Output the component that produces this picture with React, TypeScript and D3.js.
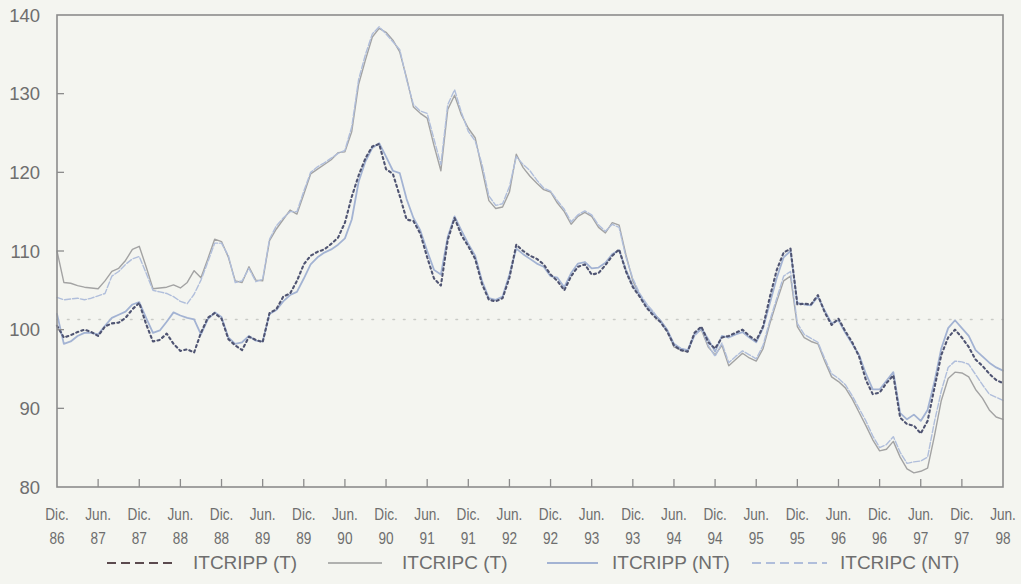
import React from "react";
import * as d3 from "d3";

// Monthly observations, Dec 1986 (index 0) .. Jun 1998 (index 138)
const itcrippT: number[] = [
  100.5, 99.0, 99.3, 99.7, 100.0, 99.7, 99.2, 100.4, 100.8, 100.9,
  101.5, 102.6, 103.4, 100.7, 98.5, 98.7, 99.5, 98.2, 97.3, 97.5,
  97.1, 99.6, 101.5, 102.1, 101.4, 98.8, 98.0, 97.4, 99.1, 98.7,
  98.4, 102.1, 102.6, 104.2, 104.6, 106.2, 108.3, 109.4, 109.9, 110.2,
  110.9, 111.7, 113.6, 116.9, 119.6, 121.8, 123.3, 123.6, 120.4, 119.8,
  117.0, 114.0, 113.8, 112.2, 109.2, 106.5, 105.6, 111.4, 114.2, 112.0,
  110.6, 109.0, 105.8, 103.8, 103.6, 104.0, 106.6, 110.8, 110.0, 109.4,
  109.0, 108.3, 107.0, 106.2, 105.0, 106.8, 108.0, 108.3, 107.0, 107.2,
  108.2, 109.4, 110.2, 107.4, 105.4, 104.2, 102.8, 101.8, 101.0, 99.8,
  98.0, 97.4, 97.2, 99.6, 100.4, 98.4, 97.6, 99.0, 99.2, 99.6,
  100.0, 99.2, 98.6, 100.4, 104.2, 107.6, 109.8, 110.3, 103.2, 103.3,
  103.2, 104.4, 102.2, 100.6, 101.4, 99.8, 98.4, 96.6, 93.6, 91.8,
  92.0, 93.2, 94.2, 88.8, 88.0, 87.8, 86.8, 88.4, 92.6, 96.8,
  99.0, 100.0, 99.0, 97.8, 96.2, 95.4, 94.4, 93.6, 93.2,
];

const itcripcT: number[] = [
  110.0, 106.0, 105.9, 105.6, 105.4, 105.3, 105.2, 106.2, 107.4, 107.8,
  108.8, 110.2, 110.6, 108.0, 105.2, 105.3, 105.4, 105.7, 105.3, 106.0,
  107.5, 106.6, 109.0, 111.5, 111.2, 109.2, 106.2, 106.0, 108.0, 106.3,
  106.2, 111.3, 112.8, 114.0, 115.2, 114.7, 117.2, 119.8, 120.4, 121.0,
  121.6, 122.5, 122.6, 125.2, 131.2, 134.3, 137.2, 138.3, 137.8, 136.8,
  135.3, 132.0, 128.3, 127.5, 126.9, 123.4, 120.2, 128.0, 129.8, 127.3,
  125.6, 124.4, 120.4, 116.4, 115.4, 115.6, 117.5, 122.3, 120.6, 119.5,
  118.6, 117.8, 117.5, 116.1, 115.0, 113.4, 114.4, 114.9, 114.4, 113.0,
  112.3, 113.6, 113.3, 109.5, 106.2, 104.4, 103.0, 102.1, 101.2, 100.0,
  97.8, 97.4, 97.2, 99.4, 100.0, 97.8, 96.8, 98.0, 95.4, 96.2,
  97.0, 96.4, 96.0, 97.6, 100.8, 103.6, 106.2, 106.8, 100.4, 99.0,
  98.5, 98.2, 96.0, 94.0, 93.4, 92.6, 91.2, 89.5, 87.8, 86.0,
  84.6, 84.8, 85.8, 83.8, 82.3, 81.8, 82.0, 82.4, 86.5, 91.0,
  93.8, 94.6, 94.5, 94.0, 92.4, 91.3, 89.8, 88.9, 88.6,
];

const itcrippNT: number[] = [
  102.0, 98.2, 98.5, 99.2, 99.6, 99.6, 99.4, 100.5, 101.5, 101.9,
  102.3, 103.2, 103.5, 101.5, 99.6, 99.9, 101.0, 102.2, 101.8, 101.5,
  101.3, 99.4, 101.3, 102.2, 101.6, 99.0, 98.2, 98.4, 99.2, 98.6,
  98.5, 102.0, 102.5, 103.6, 104.4, 104.8, 106.5, 108.3, 109.2, 109.8,
  110.2, 110.8, 111.6, 114.0, 118.8, 121.4, 123.1, 123.7, 122.0, 120.2,
  119.9, 116.6, 114.2, 112.6, 110.0, 107.6, 107.0, 111.8, 114.4, 112.6,
  110.9, 109.4, 106.2, 104.0, 103.8, 104.2, 107.0, 110.3, 109.6, 109.0,
  108.4, 108.0, 106.8, 106.6, 105.4, 107.2, 108.4, 108.6, 107.8, 107.9,
  108.5, 109.6, 110.1, 107.6, 105.6, 104.4, 103.0, 102.0, 101.2, 100.0,
  98.2, 97.6, 97.4, 99.4, 100.2, 98.8, 97.2, 99.2, 99.0, 99.4,
  99.7, 99.0, 98.4, 100.2, 103.4, 106.6, 109.2, 110.0, 103.4, 103.2,
  103.1, 104.2, 102.4, 100.8, 101.2, 99.6, 98.2, 96.8, 94.4, 92.4,
  92.4, 93.5, 94.6, 89.4, 88.6, 89.2, 88.4, 89.8, 93.4, 97.6,
  100.2, 101.2, 100.2, 99.2, 97.4, 96.6, 95.8, 95.2, 94.8,
];

const itcripcNT: number[] = [
  104.1, 103.8, 103.9, 104.0, 103.8, 104.0, 104.3, 104.6, 106.8, 107.4,
  108.3, 109.0, 109.3, 107.2, 105.0, 104.8, 104.6, 104.2, 103.6, 103.3,
  104.5, 106.3, 108.6, 111.0, 111.0, 109.4, 106.0, 106.2, 107.8, 106.1,
  106.4, 111.5, 113.2, 114.2, 115.0, 115.0, 117.6, 120.0, 120.7, 121.2,
  121.8, 122.4, 122.8, 125.8, 131.8, 135.0, 137.6, 138.5, 137.6, 136.6,
  135.6, 131.8, 128.6, 127.8, 127.5, 124.2, 121.0, 128.6, 130.5, 127.6,
  125.2, 124.0, 121.0, 117.0, 115.8, 116.0, 118.2, 122.0, 121.0, 120.2,
  119.0, 118.0, 117.6, 116.4, 115.3, 113.7, 114.6, 115.1, 114.6, 113.3,
  112.5, 113.4, 113.0, 109.2, 106.5, 104.6, 103.3, 102.3, 101.0, 99.8,
  98.0, 97.6, 97.3, 99.2, 100.1, 98.0, 96.6, 98.3, 95.8, 96.6,
  97.3, 96.8, 96.3, 98.0, 101.2, 104.0, 106.8, 107.4, 100.8, 99.4,
  98.9, 98.4, 96.3, 94.4, 93.8, 93.0, 91.6, 90.0, 88.4, 86.5,
  85.0, 85.4, 86.4, 84.4, 83.0, 83.2, 83.3, 83.8, 88.3, 92.2,
  95.2, 96.0, 95.9, 95.6, 94.3, 93.0, 91.8, 91.4, 91.0,
];

const tickMonths: string[] = ["Dic.", "Jun."];
const tickYears: string[] = [
  "86", "87", "87", "88", "88", "89", "89", "90", "90", "91", "91", "92",
  "92", "93", "93", "94", "94", "95", "95", "96", "96", "97", "97", "98",
];
const yTicks: number[] = [80, 90, 100, 110, 120, 130, 140];
const referenceLevel = 101.3;

const legendNames: string[] = ["ITCRIPP (T)", "ITCRIPC (T)", "ITCRIPP (NT)", "ITCRIPC (NT)"];

const W = 1021;
const H = 584;
const margin = { left: 57, top: 15, right: 18, bottom: 97 };

export default function App() {
  const innerW = W - margin.left - margin.right;
  const innerH = H - margin.top - margin.bottom;
  const n = itcrippT.length;
  const x = d3.scaleLinear().domain([0, n - 1]).range([margin.left, margin.left + innerW]);
  const y = d3.scaleLinear().domain([80, 140]).range([margin.top + innerH, margin.top]);

  const line = d3
    .line<number>()
    .x((_, i) => x(i))
    .y((d) => y(d));

  const textColor = "#6e6e6e";
  const frameColor = "#8c8c8c";

  const series = [
    { name: legendNames[0], data: itcrippT, color: "#4f5472", width: 2.1, dash: "2.2,3.2", legendColor: "#5b4a4e", legendDash: "9,5", legendWidth: 2.2 },
    { name: legendNames[1], data: itcripcT, color: "#a3a3a3", width: 1.4, dash: "", legendColor: "#9a9a9a", legendDash: "", legendWidth: 1.4 },
    { name: legendNames[2], data: itcrippNT, color: "#a3b3d3", width: 1.8, dash: "", legendColor: "#a3b3d3", legendDash: "", legendWidth: 1.8 },
    { name: legendNames[3], data: itcripcNT, color: "#b0bedb", width: 1.4, dash: "6,2", legendColor: "#b0bedb", legendDash: "9,5", legendWidth: 1.8 },
  ];
  const drawOrder = [1, 3, 2, 0];

  const legendItems = [
    { x1: 107, x2: 175, tx: 193 },
    { x1: 328, x2: 382, tx: 402 },
    { x1: 547, x2: 598, tx: 612 },
    { x1: 752, x2: 827, tx: 840 },
  ];

  const halfYears = d3.range(0, n, 6);
  const bottom = margin.top + innerH;
  const right = margin.left + innerW;

  return (
    <svg width={W} height={H} style={{ position: "absolute", left: 0, top: 0 }} fontFamily="'Liberation Sans', Arial, sans-serif">
      <rect x={0} y={0} width={W} height={H} fill="#f4f5f0" />
      {/* reference dotted line */}
      <line x1={margin.left} x2={right} y1={y(referenceLevel)} y2={y(referenceLevel)} stroke="#c9cbc6" strokeWidth={1.6} strokeDasharray="1.5,9" strokeLinecap="round" />
      {/* series */}
      {drawOrder.map((si) => {
        const s = series[si];
        return (
          <path key={s.name} d={line(s.data) || ""} fill="none" stroke={s.color} strokeWidth={s.width}
            strokeDasharray={s.dash || undefined} strokeLinecap="round" strokeLinejoin="round" />
        );
      })}
      {/* frame */}
      <rect x={margin.left} y={margin.top} width={innerW} height={innerH} fill="none" stroke={frameColor} strokeWidth={1.6} />
      {/* y ticks and labels */}
      {yTicks.map((t) => (
        <g key={t}>
          {t > 80 && t < 140 && (
            <line x1={margin.left} x2={margin.left + 7} y1={y(t)} y2={y(t)} stroke={frameColor} strokeWidth={1.3} />
          )}
          <text x={40} y={y(t)} dy="0.36em" textAnchor="end" fontSize={18.5} fill={textColor}>{t}</text>
        </g>
      ))}
      {/* x ticks and labels */}
      {halfYears.map((m, i) => (
        <g key={m}>
          {m > 0 && m < n - 1 && (
            <line x1={x(m)} x2={x(m)} y1={bottom} y2={bottom - 8} stroke={frameColor} strokeWidth={1.3} />
          )}
          <g transform={`translate(${x(m)},0) scale(0.85,1)`}>
            <text x={0} y={520} textAnchor="middle" fontSize={16} fill={textColor}>{tickMonths[i % 2]}</text>
            <text x={0} y={544} textAnchor="middle" fontSize={16} fill={textColor}>{tickYears[i]}</text>
          </g>
        </g>
      ))}
      {/* legend */}
      {series.map((s, i) => (
        <g key={s.name}>
          <line x1={legendItems[i].x1} x2={legendItems[i].x2} y1={563} y2={563} stroke={s.legendColor}
            strokeWidth={s.legendWidth} strokeDasharray={s.legendDash || undefined} />
          <text x={legendItems[i].tx} y={569} fontSize={19} fill={textColor}>{s.name}</text>
        </g>
      ))}
    </svg>
  );
}
